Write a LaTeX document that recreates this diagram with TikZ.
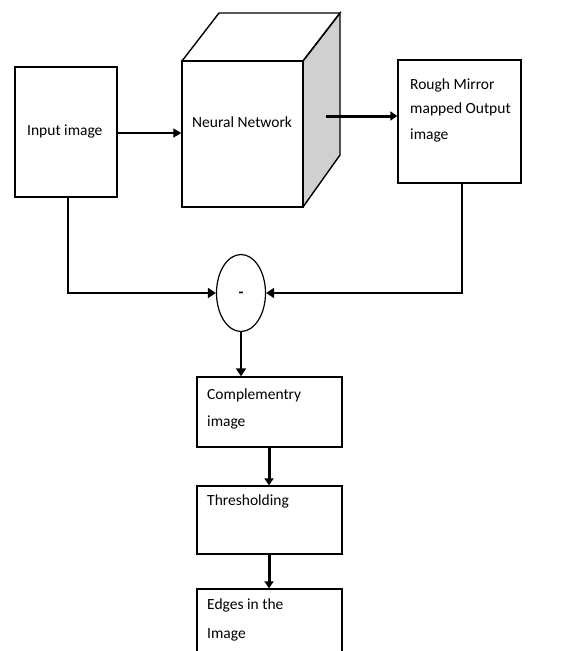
\documentclass[tikz,border=0pt]{standalone}
\usepackage{fontspec}
\setmainfont{Carlito}
\usetikzlibrary{arrows.meta,shapes.geometric}
\definecolor{sidegray}{RGB}{208,208,208}
\tikzset{
  box/.style={draw, line width=1.4pt, rectangle, inner sep=0pt},
  txt/.style={font=\fontsize{15.5}{18}\selectfont, anchor=mid west, inner sep=0pt},
  thin arrow/.style={line width=1.3pt, -{Triangle[length=8pt,width=9pt]}},
  thick arrow/.style={line width=3pt, -{Triangle[length=7pt,width=9pt]}},
  thin line/.style={line width=1.3pt},
  thick line/.style={line width=2.4pt}
}
\begin{document}
\begin{tikzpicture}[x=1pt,y=-1pt]
\useasboundingbox (0,0) rectangle (565,651);
\clip (0,0) rectangle (565,651);

% input image box
\node[box, minimum width=102pt, minimum height=130pt] (in) at (66,132) {};
\node[txt] (intxt) at (27,133) {Input image};

% neural network cube
\fill[sidegray] (303,61) -- (340,13) -- (340,155) -- (303,207) -- cycle;
\draw[line width=1.4pt, line join=miter] (182,61) -- (219,13) -- (340,13) -- (303,61);
\draw[line width=1.4pt] (303,61) -- (340,13) -- (340,155) -- (303,207);
\node[box, minimum width=121pt, minimum height=146pt] (nn) at (242.5,134) {};
\node[txt] (nntxt) at (192,125) {Neural Network};
\coordinate (nnout) at (326,116);

% output box
\node[box, minimum width=123pt, minimum height=123pt] (out) at (459.5,121.5) {};
\node[txt] (outtxt1) at (410,87) {Rough Mirror};
\node[txt] (outtxt2) at (410,111) {mapped Output};
\node[txt] (outtxt3) at (410,137) {image};

% subtraction node
\node[draw, ellipse, line width=1.2pt, minimum width=49pt, minimum height=77pt, inner sep=0pt] (sub) at (241,293) {};
\node[font=\fontsize{16}{18}\selectfont\bfseries] (subtxt) at (241,295) {-};

% complementary image box
\node[box, minimum width=145pt, minimum height=70pt] (comp) at (269.5,412) {};
\node[txt] (comptxt1) at (207,397) {Complementry};
\node[txt] (comptxt2) at (207,424) {image};

% thresholding box
\node[box, minimum width=145pt, minimum height=68pt] (thr) at (269.5,520) {};
\node[txt] (thrtxt) at (207,503) {Thresholding};

% edges box (runs past the lower edge)
\node[box, minimum width=145pt, minimum height=90pt] (edg) at (269.5,634) {};
\node[txt] (edgtxt1) at (207,607) {Edges in the};
\node[txt] (edgtxt2) at (207,636) {Image};

% connectors
\draw[thin arrow] (in.east |- 0,133) -- (nn.west |- 0,133);
\draw[thick arrow] (nnout) -- (out.west |- nnout);

\coordinate (lc) at (68,293);
\coordinate (rc) at (462,293);
\draw[thin line] (in.south -| lc) -- (lc);
\draw[thick line, -{Triangle[length=8pt,width=10pt]}] ([xshift=-1pt]lc) -- (sub.west);
\draw[thin line] (out.south -| rc) -- (rc);
\draw[thick line, -{Triangle[length=8pt,width=10pt]}] ([xshift=1pt]rc) -- (sub.east);

\draw[thick line, -{Triangle[length=8pt,width=10pt]}] (sub.south) -- (sub.south |- comp.north);
\draw[thick arrow] (comp.south -| 269,0) -- (thr.north -| 269,0);
\draw[thick arrow] (thr.south -| 269,0) -- (edg.north -| 269,0);
\end{tikzpicture}
\end{document}
